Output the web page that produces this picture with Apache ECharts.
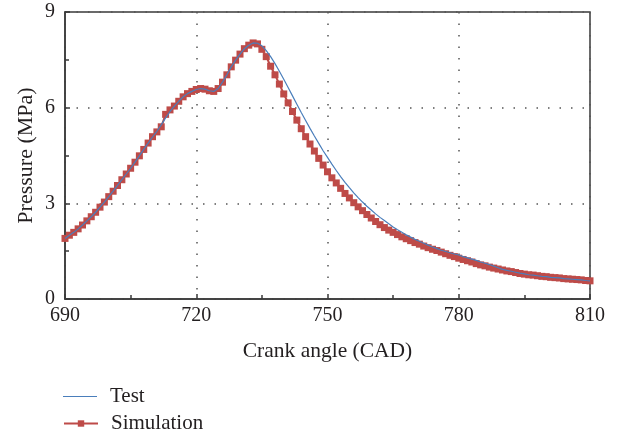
<!DOCTYPE html>
<html>
<head>
<meta charset="utf-8">
<script src="https://cdn.jsdelivr.net/npm/echarts@6/dist/echarts.min.js"></script>
<style>
  html, body { margin: 0; padding: 0; background: #fff; }
  #chart { width: 621px; height: 437px; }
</style>
</head>
<body>
<div id="chart"></div>
<script>
// crank angle, one sample per degree
var angles = [];
for (var a = 690; a <= 810; a++) angles.push(a);

var simulation = [
  1.90, 2.00, 2.09, 2.20, 2.32, 2.45, 2.58, 2.72, 2.88, 3.04,
  3.21, 3.38, 3.56, 3.74, 3.92, 4.10, 4.29, 4.49, 4.69, 4.89,
  5.09, 5.24, 5.40, 5.79, 5.93, 6.05, 6.20, 6.34, 6.44, 6.51,
  6.57, 6.60, 6.58, 6.53, 6.51, 6.60, 6.80, 7.03, 7.28, 7.49,
  7.68, 7.85, 7.96, 8.03, 8.00, 7.83, 7.60, 7.30, 7.03, 6.74,
  6.43, 6.15, 5.88, 5.61, 5.34, 5.09, 4.86, 4.64, 4.41, 4.20,
  3.99, 3.80, 3.64, 3.47, 3.31, 3.17, 3.02, 2.89, 2.77, 2.65,
  2.54, 2.43, 2.33, 2.24, 2.16, 2.09, 2.02, 1.95, 1.89, 1.83,
  1.77, 1.72, 1.66, 1.61, 1.56, 1.52, 1.47, 1.42, 1.37, 1.33,
  1.28, 1.24, 1.20, 1.16, 1.11, 1.07, 1.04, 1.00, 0.97, 0.94,
  0.91, 0.88, 0.86, 0.83, 0.80, 0.78, 0.76, 0.75, 0.73, 0.71,
  0.70, 0.68, 0.67, 0.66, 0.64, 0.63, 0.62, 0.61, 0.60, 0.58,
  0.57
];

var test = [
  1.90, 2.00, 2.09, 2.20, 2.32, 2.45, 2.58, 2.72, 2.88, 3.04,
  3.21, 3.38, 3.56, 3.74, 3.92, 4.10, 4.29, 4.49, 4.69, 4.89,
  5.08, 5.26, 5.46, 5.68, 5.88, 6.05, 6.20, 6.34, 6.44, 6.51,
  6.57, 6.60, 6.58, 6.53, 6.51, 6.60, 6.80, 7.03, 7.28, 7.49,
  7.68, 7.85, 7.96, 8.03, 8.02, 7.94, 7.79, 7.60, 7.38, 7.14,
  6.89, 6.63, 6.37, 6.11, 5.85, 5.60, 5.35, 5.11, 4.88, 4.65,
  4.44, 4.23, 4.03, 3.84, 3.66, 3.49, 3.33, 3.18, 3.04, 2.91,
  2.79, 2.67, 2.56, 2.46, 2.36, 2.26, 2.17, 2.09, 2.01, 1.94,
  1.87, 1.81, 1.75, 1.69, 1.63, 1.58, 1.53, 1.49, 1.45, 1.41,
  1.38, 1.33, 1.29, 1.25, 1.21, 1.16, 1.12, 1.08, 1.03, 0.98,
  0.93, 0.90, 0.87, 0.84, 0.81, 0.79, 0.76, 0.75, 0.73, 0.71,
  0.70, 0.68, 0.67, 0.66, 0.64, 0.63, 0.62, 0.61, 0.60, 0.58,
  0.57
];

var xTicks = [690, 720, 750, 780, 810];
var yTicks = [0, 3, 6, 9];

function pairs(ys) {
  return angles.map(function (x, i) { return [x, ys[i]]; });
}

var font = 'Liberation Serif';
var ink = '#231f20';
var axisColor = '#3a3a3a';
var blue = '#4a7ebb';
var red = '#be4b48';
var dotted = { color: '#555', width: 1.5, type: [1.5, 10] };

function legendBox(name, top, icon) {
  var item = { name: name };
  if (icon) item.icon = icon;
  return {
    left: 63, top: top, padding: 0,
    itemWidth: 34, itemHeight: 8,
    textStyle: { fontFamily: font, fontSize: 21, color: ink, padding: [0, 0, 0, 8] },
    data: [item]
  };
}

var chart = echarts.init(document.getElementById('chart'));
chart.setOption({
  animation: false,
  textStyle: { fontFamily: font, color: ink },
  grid: {
    left: 65, right: 31, top: 12, bottom: 138,
    show: true, borderColor: axisColor, borderWidth: 1.5
  },
  legend: [
    legendBox('Test', 386, 'path://M0,0 L40,0 L40,1 L0,1 Z'),
    legendBox('Simulation', 413)
  ],
  xAxis: {
    type: 'value',
    min: xTicks[0], max: xTicks[xTicks.length - 1], interval: xTicks[1] - xTicks[0],
    name: 'Crank angle (CAD)',
    nameLocation: 'middle', nameGap: 41,
    nameTextStyle: { fontFamily: font, fontSize: 21.5, color: ink },
    axisLine: { lineStyle: { color: axisColor, width: 1.5 } },
    axisTick: { inside: true, length: 5, lineStyle: { color: axisColor, width: 1.5 } },
    minorTick: { show: true, splitNumber: 2, length: 4, lineStyle: { color: axisColor, width: 1.5 } },
    axisLabel: { fontFamily: font, fontSize: 20, color: ink, margin: 7 },
    splitLine: { show: true, lineStyle: dotted }
  },
  yAxis: {
    type: 'value',
    min: yTicks[0], max: yTicks[yTicks.length - 1], interval: yTicks[1] - yTicks[0],
    name: 'Pressure (MPa)',
    nameLocation: 'middle', nameGap: 28,
    nameMoveOverlap: false,
    nameTextStyle: { fontFamily: font, fontSize: 22, color: ink },
    axisLine: { show: true, lineStyle: { color: axisColor, width: 1.5 } },
    axisTick: { show: true, inside: true, length: 5, lineStyle: { color: axisColor, width: 1.5 } },
    minorTick: { show: true, splitNumber: 2, length: 4, lineStyle: { color: axisColor, width: 1.5 } },
    axisLabel: { fontFamily: font, fontSize: 20, color: ink, margin: 10 },
    splitLine: { show: true, lineStyle: dotted }
  },
  series: [{
    name: 'Test',
    type: 'line',
    data: pairs(test),
    symbol: 'none',
    lineStyle: { color: blue, width: 1.2 },
    itemStyle: { color: blue },
    z: 3
  }, {
    name: 'Simulation',
    type: 'line',
    data: pairs(simulation),
    symbol: 'rect',
    symbolSize: 7,
    showAllSymbol: true,
    lineStyle: { color: red, width: 2 },
    itemStyle: { color: red },
    z: 2
  }]
});
</script>
</body>
</html>
